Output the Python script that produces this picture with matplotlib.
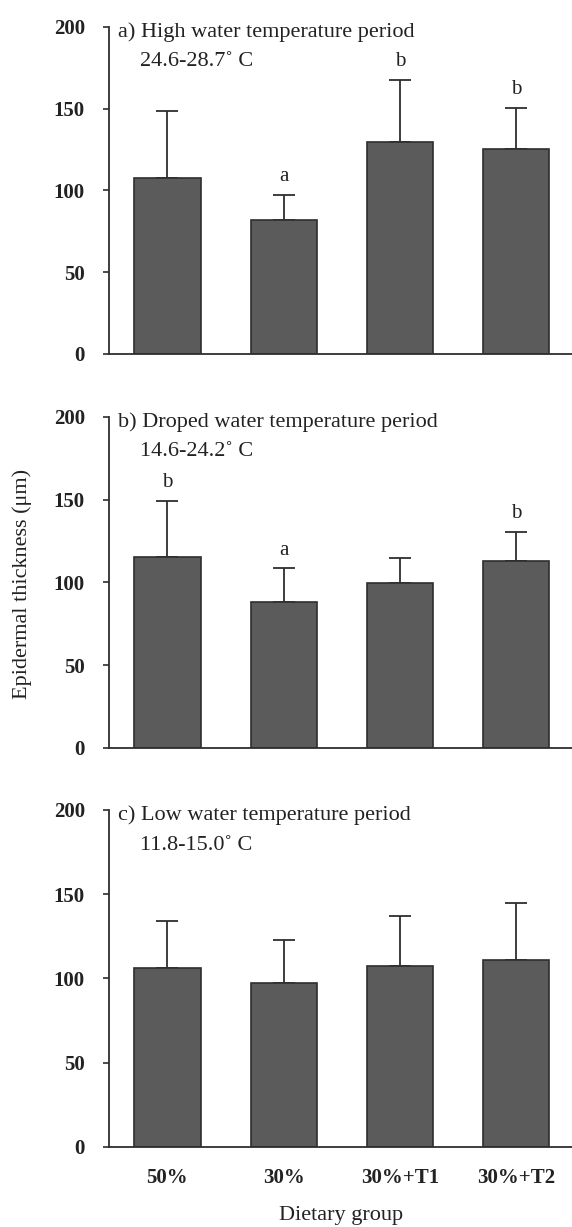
import numpy as np
import matplotlib
matplotlib.use('Agg')
import matplotlib.pyplot as plt

groups = ['50%', '30%', '30%+T1', '30%+T2']

high_mean = [107.7, 81.7, 129.9, 125.5]
high_err = [41.2, 15.7, 37.7, 25.2]
high_letters = ['', 'a', 'b', 'b']

drop_mean = [115.6, 88.2, 99.5, 113.0]
drop_err = [33.6, 20.4, 15.5, 17.5]
drop_letters = ['b', 'a', '', 'b']

low_mean = [106.5, 97.4, 107.3, 110.9]
low_err = [27.7, 25.5, 29.7, 33.6]
low_letters = ['', '', '', '']

titles = ['a) High water temperature period',
          'b) Droped water temperature period',
          'c) Low water temperature period']
temps = ['24.6-28.7\u02da C', '14.6-24.2\u02da C', '11.8-15.0\u02da C']

yticks = [0, 50, 100, 150, 200]

plt.rcParams['font.family'] = ['Liberation Serif', 'DejaVu Serif']

BAR = '#5b5b5b'
DARK = '#2e2e2e'
TXT = '#222222'


def drawPanel(ax, means, errs, letters, title, temp):
    x = np.arange(len(groups))
    lower = np.zeros(len(means))
    ax.bar(x, means, width=0.57, color=BAR, edgecolor=DARK, linewidth=1.2, zorder=2)
    ax.errorbar(x, means, yerr=[lower, errs], fmt='none', ecolor=DARK,
                elinewidth=1.3, capsize=8, capthick=1.3, zorder=1)
    for i in range(0, len(letters), 1):
        if letters[i]:
            ax.text(x[i], means[i] + errs[i] + 11, letters[i], ha='center',
                    va='center', fontsize=15, color=TXT)
    ax.text(0.019, 0.985, title, transform=ax.transAxes, ha='left',
            va='center', fontsize=16, color=TXT)
    ax.text(0.066, 0.895, temp, transform=ax.transAxes, ha='left',
            va='center', fontsize=16, color=TXT)

    ax.set_xlim(-0.5, 3.48)
    ax.set_ylim(0, 200)
    ax.set_yticks(yticks)
    ax.set_xticks(x)
    ax.spines['top'].set_visible(False)
    ax.spines['right'].set_visible(False)
    for s in ['left', 'bottom']:
        ax.spines[s].set_color(DARK)
        ax.spines[s].set_linewidth(1.3)
    ax.tick_params(axis='y', direction='out', length=4.5, width=1.2,
                   color=DARK, pad=13, labelsize=15, labelcolor=TXT)
    ax.tick_params(axis='x', length=0, pad=15, labelsize=15,
                   labelcolor=TXT)
    for lab in ax.get_yticklabels():
        lab.set_fontweight('bold')


fig = plt.figure(figsize=(5.72, 12.27), dpi=100)

boxes = [[0.191, 0.7115, 0.809, 0.2665],
         [0.191, 0.3904, 0.809, 0.2698],
         [0.191, 0.0652, 0.809, 0.2747]]
data = [(high_mean, high_err, high_letters),
        (drop_mean, drop_err, drop_letters),
        (low_mean, low_err, low_letters)]

axes = []
for i in range(0, 3, 1):
    ax = fig.add_axes(boxes[i])
    drawPanel(ax, data[i][0], data[i][1], data[i][2], titles[i], temps[i])
    axes.append(ax)

for ax in axes[:2]:
    ax.set_xticklabels([])
axes[2].set_xticklabels(groups, fontweight='bold')

fig.text(0.039, 0.524, 'Epidermal thickness (\u03bcm)', rotation=90,
         ha='center', va='center', fontsize=16, color=TXT)
fig.text(0.596, 0.0095, 'Dietary group', ha='center', va='center',
         fontsize=16, color=TXT)

fig.savefig('out.png', dpi=100)
